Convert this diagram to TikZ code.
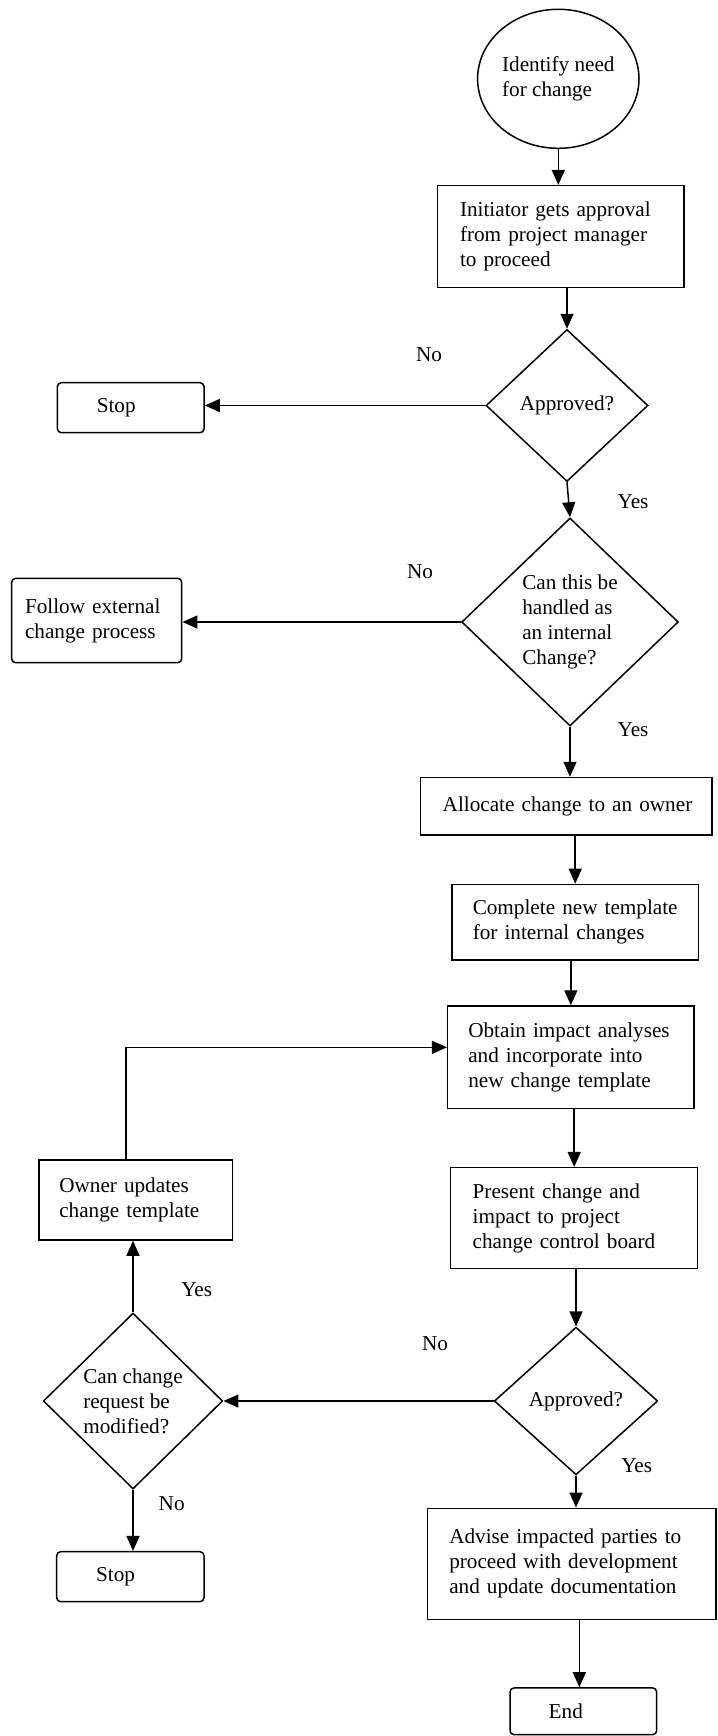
\documentclass[tikz,border=0pt]{standalone}
\usepackage{fontspec}
\setmainfont{Liberation Serif}
\usetikzlibrary{shapes.geometric,arrows.meta}

\begin{document}
\begin{tikzpicture}[x=1pt,y=-1pt,
  font=\fontsize{21.2}{25}\selectfont,
  line width=1.5pt,
  arr/.style={-{Triangle[length=15pt,width=13pt]}},
  procbox/.style={draw, rectangle, align=left, inner ysep=0pt},
  termbox/.style={draw, rectangle, rounded corners=4pt, align=left, inner ysep=0pt},
  decision/.style={draw, diamond, inner sep=0pt, align=left},
  lbl/.style={inner sep=0pt}]

\useasboundingbox (0,0) rectangle (717,1736);

% main column
\node[draw, ellipse, inner sep=0pt, align=left,
      minimum width=161.4pt, minimum height=139pt] (start) at (558.3,78.8)
  {Identify need\\for change};
\node[procbox, inner xsep=22.3pt, text width=201.7pt, minimum height=101.6pt]
  (box1) at (560.85,236.5) {Initiator gets approval\\from project manager\\to proceed};
\node[decision, minimum width=162pt, minimum height=152pt] (dia1) at (567,405.5) {Approved?};
\node[decision, minimum width=216.7pt, minimum height=208pt] (dia2) at (570,622)
  {Can this be\\handled as\\an internal\\Change?};
\node[procbox, inner xsep=22.2pt, text width=247.1pt, minimum height=57.5pt]
  (alloc) at (566.25,806.25) {\mbox{Allocate change to an owner}};
\node[procbox, inner xsep=20.7pt, text width=204.9pt, minimum height=75.5pt]
  (complete) at (575.2,922.2) {Complete new template\\for internal changes};
\node[procbox, inner xsep=20.6pt, text width=205.1pt, minimum height=102.3pt]
  (obtain) at (570.85,1057.15) {Obtain impact analyses\\and incorporate into\\new change template};
\node[procbox, inner xsep=22pt, text width=203pt, minimum height=100.6pt]
  (present) at (574.2,1218) {Present change and\\impact to project\\change control board};
\node[decision, minimum width=163.4pt, minimum height=147.7pt] (dia3) at (576,1401) {Approved?};
\node[procbox, inner xsep=21.6pt, text width=245.1pt, minimum height=111pt]
  (advise) at (571.85,1563.8) {Advise impacted parties to\\proceed with development\\and update documentation};
\node[termbox, inner xsep=38.7pt, text width=69.3pt, minimum height=46.7pt]
  (end) at (583.35,1711.3) {End};

% left column
\node[termbox, inner xsep=39.4pt, text width=67.9pt, minimum height=50pt]
  (stop1) at (130.7,407.7) {Stop};
\node[termbox, inner xsep=13.3pt, text width=143.4pt, minimum height=84.4pt]
  (follow) at (96.7,620.5) {Follow external\\change process};
\node[procbox, inner xsep=20.3pt, text width=153.1pt, minimum height=80pt]
  (owner) at (135.85,1200) {Owner updates\\change template};
\node[decision, minimum width=179.4pt, minimum height=176pt] (dia4) at (133,1401)
  {Can change\\request be\\modified?};
\node[termbox, inner xsep=39.4pt, text width=68.5pt, minimum height=50pt]
  (stop2) at (130.35,1576.7) {Stop};

% branch labels
\node[lbl] (no1) at (429,355) {No};
\node[lbl] (yes1) at (633,501.7) {Yes};
\node[lbl] (no2) at (420,571.7) {No};
\node[lbl] (yes2) at (633,730) {Yes};
\node[lbl] (no3) at (435,1343.3) {No};
\node[lbl] (yes3) at (636.7,1465.7) {Yes};
\node[lbl] (yes4) at (196.7,1289.3) {Yes};
\node[lbl] (no4) at (171.7,1504) {No};

% connectors
\coordinate (endin) at ([xshift=-4pt]end.north);
\coordinate (loopout) at ([xshift=-9.85pt]owner.north);
\coordinate (loopin) at ([yshift=9.85pt]obtain.west);

\draw[arr] (start.south) -- (start.south |- box1.north);
\draw[arr] (dia1.north |- box1.south) -- (dia1.north);
\draw[arr] (dia1.west) -- (stop1.east |- dia1.west);
\draw[arr] (dia1.south) -- (dia2.north);
\draw[arr] (dia2.west) -- (follow.east |- dia2.west);
\draw[arr] (dia2.south) -- (dia2.south |- alloc.north);
\draw[arr] (complete.north |- alloc.south) -- (complete.north);
\draw[arr] (obtain.north |- complete.south) -- (obtain.north);
\draw[arr] (present.north |- obtain.south) -- (present.north);
\draw[arr] (dia3.north |- present.south) -- (dia3.north);
\draw[arr] (dia3.south) -- (dia3.south |- advise.north);
\draw[arr] (endin |- advise.south) -- (endin);
\draw[arr] (dia3.west) -- (dia4.east);
\draw[arr] (dia4.north) -- (dia4.north |- owner.south);
\draw[arr] (dia4.south) -- (dia4.south |- stop2.north);
\draw[arr] (loopout) |- (loopin);
\end{tikzpicture}
\end{document}
